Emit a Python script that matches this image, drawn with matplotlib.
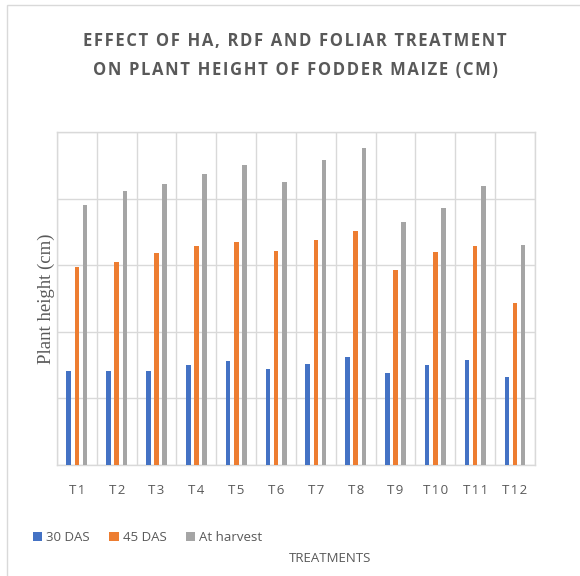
import matplotlib

matplotlib.use("Agg")

import matplotlib.pyplot as plt
import numpy as np
from matplotlib.patches import Rectangle

plt.rcParams["font.family"] = ["Open Sans", "DejaVu Sans"]

treatments = ["T1", "T2", "T3", "T4", "T5", "T6", "T7", "T8", "T9", "T10", "T11", "T12"]
das30 = [70.8, 70.7, 70.8, 75.1, 78.3, 72.3, 75.6, 80.9, 69.3, 75.3, 78.8, 66.3]
das45 = [148.9, 152.6, 158.9, 164.4, 167.7, 160.9, 168.9, 175.7, 146.4, 159.9, 164.4, 121.9]
harvest = [195.2, 205.7, 211.2, 218.5, 225.5, 212.7, 228.8, 237.8, 182.2, 193.0, 209.2, 165.4]

series = [("30 DAS", das30, "#4472C4"),
          ("45 DAS", das45, "#ED7D31"),
          ("At harvest", harvest, "#A5A5A5")]

TEXT = "#595959"
GRID = "#D9D9D9"


def spaced(s, sep="\u200a"):
    return sep.join(s)


fig = plt.figure(figsize=(5.8, 5.76), dpi=100)
fig.patches.append(Rectangle((7 / 580, -0.01), 1.2, 1 - 5 / 576 + 0.01,
                             transform=fig.transFigure, fill=False,
                             edgecolor=GRID, linewidth=1.0))

ax = fig.add_axes([0.0983, 0.1927, 0.824, 0.578])
x = np.arange(len(treatments))
offsets = [-0.205, 0.0, 0.205]
for (label, vals, color), off in zip(series, offsets):
    ax.bar(x + off, vals, width=0.115, color=color, label=label, zorder=3)

ax.set_xlim(-0.5, len(treatments) - 0.5)
ax.set_ylim(0, 250)
ax.set_yticks(np.arange(0, 251, 50))
ax.set_yticklabels([])
ax.set_xticks(x)
ax.set_xticklabels([spaced(t) for t in treatments], color=TEXT, fontsize=9.5)
ax.set_xticks(np.arange(-0.5, len(treatments), 1), minor=True)
ax.tick_params(axis="both", which="both", length=0)
ax.tick_params(axis="x", pad=14)
ax.grid(True, axis="y", color=GRID, linewidth=1.0, zorder=0)
ax.grid(True, axis="x", which="minor", color=GRID, linewidth=1.0, zorder=0)
for sp in ax.spines.values():
    sp.set_color(GRID)
    sp.set_linewidth(1.0)

ax.set_ylabel("Plant height (cm)", family=["Liberation Serif"], fontsize=13.5,
              color=TEXT)
ax.yaxis.set_label_coords(-0.005, 0.5)

fig.text(0.5086, 0.929, spaced("EFFECT OF HA, RDF AND FOLIAR TREATMENT"),
         ha="center", va="center", fontsize=12, fontweight="bold", color=TEXT)
fig.text(0.5086, 0.879, spaced("ON PLANT HEIGHT OF FODDER MAIZE (CM)"),
         ha="center", va="center", fontsize=12, fontweight="bold", color=TEXT)

fig.legend(loc="center left", bbox_to_anchor=(0.036, 0.0665), ncol=3, frameon=False,
           fontsize=9.5, handlelength=0.7, handleheight=0.7, handletextpad=0.3,
           columnspacing=1.5, labelcolor=TEXT)
fig.text(0.569, 0.031, "TREATMENTS", ha="center", va="center", fontsize=9.5, color=TEXT)

fig.savefig("out.png", dpi=100)
